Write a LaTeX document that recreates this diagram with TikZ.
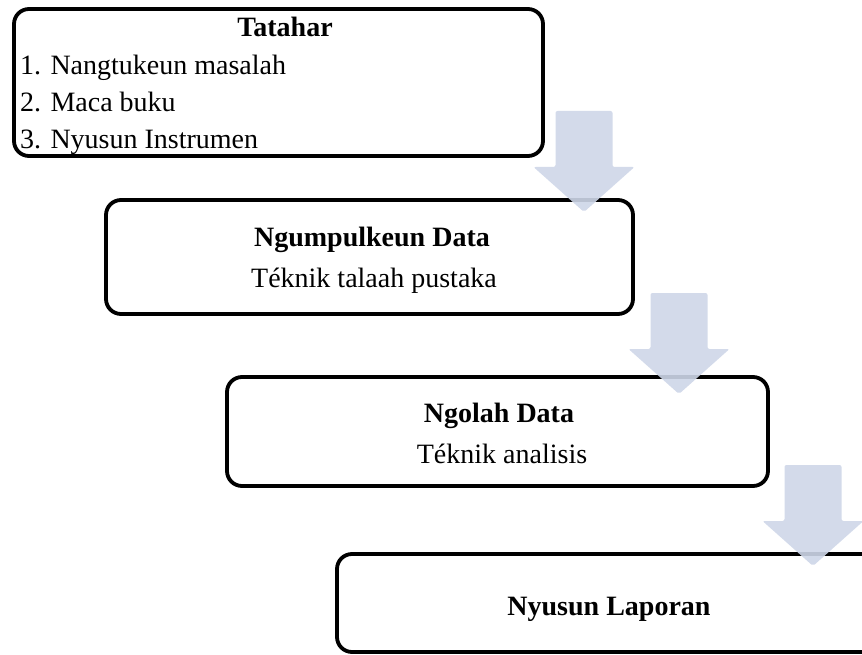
\documentclass[tikz,border=0pt]{standalone}
\usepackage{fontspec}
\setmainfont{Liberation Serif}
\definecolor{panahbiru}{RGB}{206,214,232}
\newcommand{\panahblok}[2]{%
  \fill[panah] ({#1-28.5},{#2}) -- ({#1+28.5},{#2}) -- ({#1+28.5},{#2+56})
    -- ({#1+50.5},{#2+56}) -- ({#1},{#2+101}) -- ({#1-50.5},{#2+56})
    -- ({#1-28.5},{#2+56}) -- cycle;}
\tikzset{
  kotak/.style={draw, line width=3.8pt, rounded corners=15pt, fill=white, inner sep=0pt},
  judul/.style={font=\fontsize{28}{32}\selectfont\bfseries, anchor=base, inner sep=0pt},
  isi/.style={font=\fontsize{28}{32}\selectfont, inner sep=0pt},
  panah/.style={fill=panahbiru, fill opacity=0.9, rounded corners=2pt}
}
\begin{document}
\begin{tikzpicture}[x=1pt, y=-1pt]
        \useasboundingbox (0,0) rectangle (862,655);
        \clip (0,0) rectangle (862,655);

        % kotak-kotak
        \node[kotak, minimum width=529, minimum height=147] (tatahar) at (278.5,82.5) {};
        \node[kotak, minimum width=527, minimum height=114] (ngumpulkeun) at (369.5,257) {};
        \node[kotak, minimum width=541, minimum height=109] (ngolah) at (497.5,431.5) {};
        \node[kotak, minimum width=544, minimum height=98] (laporan) at (609,603) {};

        % eusi kotak
        \node[judul] (j1) at (285,37) {Tatahar};
        \node[isi, anchor=base west] (i1) at (20,75) {1. Nangtukeun masalah};
        \node[isi, anchor=base west] (i2) at (20,112) {2. Maca buku};
        \node[isi, anchor=base west] (i3) at (20,149) {3. Nyusun Instrumen};

        \node[judul] (j2) at (372,247) {Ngumpulkeun Data};
        \node[isi, anchor=base] (t2) at (374,287) {Téknik talaah pustaka};

        \node[judul] (j3) at (499,422) {Ngolah Data};
        \node[isi, anchor=base] (t3) at (502,463) {Téknik analisis};

        \node[judul] (j4) at (609,615) {Nyusun Laporan};

        % panah
        \panahblok{584}{111}
        \panahblok{679}{293}
        \panahblok{813}{465}
    \end{tikzpicture}
\end{document}
